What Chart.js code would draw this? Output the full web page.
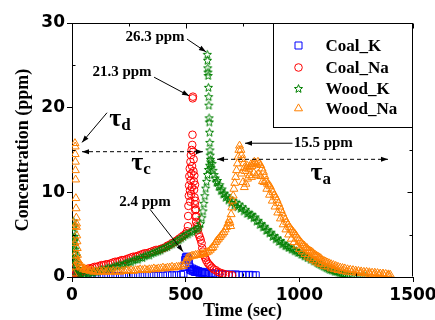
<!DOCTYPE html>
<html>
<head>
<meta charset="utf-8">
<script src="https://cdn.jsdelivr.net/npm/chart.js@4/dist/chart.umd.min.js"></script>
<style>
  html, body { margin: 0; padding: 0; background: #fff; }
  #wrap { width: 435px; height: 320px; }
</style>
</head>
<body>
<div id="wrap"><canvas id="chart" width="435" height="320"></canvas></div>
<script>
// series names and axis ticks
const seriesNames = ['Coal_K', 'Coal_Na', 'Wood_K', 'Wood_Na'];
const xTicks = [0, 500, 1000, 1500];
const yTicks = [0, 10, 20, 30];
const xMinorTicks = [250, 750, 1250];
const yMinorTicks = [5, 15, 25];

// [time (sec), concentration (ppm)]
const coalK = [[0,0.3],[4,0.6],[8,0.4],[12,0.2],[20,0.15],[30,0.1],[45,0.1],[60,0.1],[80,0.1],[100,0.1],[120,0.1],[140,0.1],[160,0.1],[180,0.1],[200,0.1],[220,0.1],[240,0.1],[260,0.1],[280,0.1],[300,0.1],[320,0.1],[340,0.15],[360,0.15],[380,0.15],[400,0.15],[420,0.2],[440,0.2],[460,0.2],[480,0.25],[490,0.4],[495,1.2],[498,2.0],[501,2.3],[504,2.4],[508,2.3],[511,2.1],[514,1.6],[517,1.2],[520,0.9],[524,0.8],[528,1.0],[532,0.7],[536,0.9],[540,0.6],[545,0.8],[550,0.6],[555,0.7],[560,0.5],[566,0.6],[572,0.5],[578,0.6],[585,0.4],[592,0.5],[600,0.35],[610,0.45],[620,0.3],[632,0.4],[645,0.3],[660,0.35],[675,0.25],[690,0.3],[705,0.25],[720,0.3],[735,0.2],[750,0.25],[765,0.2],[780,0.25],[795,0.2],[808,0.2]];

const coalNa = [[2,0.8],[4,1.3],[6,0.6],[9,1.0],[13,0.5],[18,0.4],[25,0.3],[32,0.4],[40,0.5],[48,0.7],[56,0.8],[64,0.9],[72,1.0],[80,1.0],[90,1.1],[100,1.2],[110,1.2],[120,1.3],[130,1.4],[140,1.4],[150,1.5],[160,1.5],[170,1.6],[180,1.7],[190,1.8],[200,1.8],[210,1.9],[220,2.0],[230,2.0],[240,2.1],[250,2.2],[260,2.3],[270,2.4],[280,2.4],[290,2.5],[300,2.6],[310,2.7],[320,2.8],[330,2.8],[340,2.9],[350,3.0],[360,3.1],[370,3.2],[380,3.2],[390,3.3],[400,3.4],[410,3.5],[420,3.7],[430,3.8],[440,4.0],[450,4.1],[460,4.3],[470,4.5],[480,4.7],[490,4.9],[500,5.1],[506,5.4],
  [510,6.0],[511,7.2],[512,8.4],[514,9.6],[515,10.8],[516,11.9],[518,12.8],[519,10.2],[520,8.9],[521,13.6],[522,11.4],[523,14.4],[524,9.8],[525,12.2],[526,15.0],[527,10.6],[528,13.1],[529,15.6],[530,16.8],[531,21.1],[532,21.3],[533,14.8],[534,12.5],[535,13.9],[536,11.3],[537,10.3],[538,12.0],[539,9.4],[540,8.6],[541,10.9],[542,7.9],[543,9.0],[544,7.1],[545,8.0],[546,6.5],[547,7.2],[549,6.1],[551,5.9],[554,5.6],
  [558,5.0],[562,4.7],[566,4.4],[570,4.0],[573,3.4],[576,3.0],[580,2.6],[585,2.3],[590,2.0],[596,1.7],[602,1.5],[609,1.3],[616,1.1],[624,0.9],[633,0.8],[642,0.6],[652,0.5],[664,0.4],[676,0.3],[690,0.25],[704,0.2]];

const woodK = [[1,0.6],[2,2.0],[3,3.4],[4,4.6],[5,5.9],[6,6.6],[7,5.3],[8,4.2],[9,6.1],[10,4.8],[11,3.7],[12,4.4],[13,2.8],[14,3.3],[15,2.2],[17,1.7],[19,2.5],[21,1.4],[24,1.0],[28,0.7],[33,0.5],
  [40,0.4],[50,0.3],[60,0.5],[70,0.4],[80,0.6],[90,0.5],[100,0.7],[110,0.6],[120,0.8],[130,0.9],[140,0.8],[150,1.0],[160,1.1],[170,1.0],[180,1.2],[190,1.3],[200,1.3],[210,1.5],[220,1.4],[230,1.6],[240,1.7],[250,1.8],[260,1.8],[270,2.0],[280,2.1],[290,2.1],[300,2.3],[310,2.3],[320,2.5],[330,2.6],[340,2.6],[350,2.8],[360,2.9],[370,3.0],[380,3.1],[390,3.2],[400,3.4],[410,3.5],[420,3.6],[430,3.8],[440,3.9],[450,4.1],[460,4.3],[470,4.4],[480,4.6],[490,4.8],[500,5.0],[510,5.1],[520,5.3],[530,5.4],[540,5.6],[550,5.7],[558,5.9],[565,6.3],[571,7.0],[576,7.8],[580,8.7],[584,9.6],[588,10.5],[592,11.3],[596,12.1],[600,12.7],[605,13.2],[610,13.6],
  [595,26.3],[596,25.6],[597,24.7],[598,24.2],[599,23.8],[600,22.4],[601,21.3],[602,20.3],[603,18.8],[604,18.3],[605,17.1],[606,15.9],[607,15.0],[608,14.4],[609,13.9],[611,12.9],
  [616,13.4],[620,12.6],[625,12.1],[630,11.7],[635,11.2],[640,11.4],[645,10.7],[650,10.9],[655,10.2],[660,10.4],[665,9.8],[670,9.9],[676,9.4],[682,9.6],[688,9.1],[694,9.3],[700,8.8],[707,9.0],[714,8.5],[721,8.8],[728,8.3],[735,8.6],[742,8.1],[749,8.3],[756,7.8],[763,8.0],[770,7.5],[777,7.6],[784,7.3],[791,7.4],[798,7.0],[805,7.1],[812,6.6],[819,6.7],[826,6.2],[833,6.3],[840,5.9],[847,6.0],[854,5.5],[861,5.6],[868,5.2],[875,5.3],[882,4.8],[889,4.9],[896,4.5],[903,4.6],[910,4.2],[917,4.3],[924,3.9],[931,4.0],[938,3.7],[945,3.7],[952,3.5],[959,3.5],[966,3.3],[973,3.3],[980,3.1],[987,3.1],[994,2.9],[1001,2.9],[1008,2.7],[1015,2.7],[1022,2.5],[1029,2.5],[1036,2.3],[1043,2.3],[1050,2.1],[1057,2.1],[1064,1.9],[1071,1.9],[1078,1.7],[1085,1.6],[1092,1.5],[1099,1.4],[1106,1.3],[1113,1.2],[1120,1.1],[1127,1.0],[1134,0.9],[1141,0.85],[1148,0.8],[1155,0.7],[1162,0.65],[1170,0.6],[1178,0.5],[1186,0.45],[1194,0.4],[1202,0.35],[1212,0.3],[1222,0.25],[1234,0.2],[1246,0.15],[1260,0.15],[1275,0.1],[1290,0.1]];

const woodNa = [[6,0.4],[8,1.2],[10,2.5],[11,4.0],[12,6.0],[13,15.8],[14,15.4],[14,14.5],[15,13.6],[15,12.6],[16,11.5],[17,9.3],[18,8.1],[19,7.0],[20,6.3],[20,5.9],[21,4.9],[22,4.2],[23,3.4],[24,2.6],[26,2.0],[28,1.7],
  [32,1.6],[36,1.3],[40,1.1],[45,1.2],[50,0.9],[55,1.0],[62,0.8],[70,0.9],[78,0.7],[86,0.8],[95,0.6],[104,0.7],[113,0.6],[122,0.7],[131,0.6],[140,0.7],[150,0.6],[160,0.7],[170,0.6],[180,0.7],[190,0.6],[200,0.7],[210,0.6],[220,0.7],[230,0.7],[240,0.8],[250,0.7],[260,0.8],[270,0.7],[280,0.8],[290,0.8],[300,0.9],[310,0.8],[320,0.9],[330,0.8],[340,0.9],[350,0.9],[360,1.0],[370,0.9],[380,1.0],[390,1.0],[400,1.1],[410,1.0],[420,1.1],[430,1.1],[440,1.2],[450,1.1],[460,1.2],[470,1.2],[480,1.3],[490,1.3],[498,1.5],[502,1.9],[506,2.2],
  [512,2.3],[520,2.4],[528,2.5],[536,2.5],[544,2.6],[552,2.6],[560,2.6],[568,2.7],[576,2.7],[584,2.8],[592,2.9],[600,3.0],[608,3.2],[614,3.4],[620,3.5],[626,3.8],[632,4.1],[638,4.3],[644,4.5],[650,4.7],[656,4.9],[662,5.1],[668,5.3],[674,5.6],[680,5.9],[686,6.3],[691,6.7],[695,6.4],[698,6.0],
  [700,7.4],[703,8.2],[706,9.0],[709,9.6],[712,10.4],[716,11.1],[720,11.8],[724,12.6],[728,13.4],[731,14.2],[734,15.0],[737,15.5],
  [743,15.0],[746,14.4],[750,13.9],[754,13.4],[758,12.9],[762,12.5],[767,12.9],[772,13.1],[777,12.7],[782,13.0],[787,13.3],[792,13.1],[797,13.4],[802,13.6],[807,13.5],[812,13.3],[818,13.6],[824,13.4],[830,13.2],[836,12.8],[842,12.4],[848,11.9],[854,11.4],[860,11.0],[866,10.9],[872,10.7],[878,10.3],[884,10.0],[890,9.7],[896,9.4],[902,9.1],[908,8.7],[914,8.3],[920,7.9],[926,7.5],[932,7.1],[938,6.8],[944,6.5],[950,6.2],[956,5.9],[962,5.7],[968,5.5],[974,5.3],[980,5.1],[986,4.9],[992,4.6],[998,4.4],[1004,4.2],[1010,4.0],[1016,3.8],[1022,3.7],[1028,3.5],[1034,3.4],[1040,3.2],[1046,3.1],[1052,3.0],[1058,2.9],[1064,2.7],[1070,2.6],[1076,2.5],[1082,2.4],[1088,2.3],[1094,2.2],[1100,2.0],[1108,1.9],[1116,1.8],[1124,1.7],[1132,1.6],[1140,1.5],[1150,1.4],[1160,1.3],[1170,1.2],[1180,1.1],[1190,1.05],[1200,1.0],[1212,0.9],[1224,0.85],[1236,0.8],[1248,0.75],[1260,0.7],[1272,0.65],[1284,0.6],[1296,0.6],[1308,0.55],[1320,0.5],[1332,0.5],[1344,0.45],[1356,0.4],[1368,0.4],[1380,0.35],[1392,0.3],[1400,0.25],
  [745,12.2],[752,11.2],[758,10.6],[765,11.0],[772,11.6],[780,12.0],[790,11.8],[800,12.3],[810,12.0],[820,12.2],[830,11.9],[838,11.3],
  [845,11.2],[857,10.4],[869,9.7],[881,9.0],[893,8.3],[905,7.6],[917,6.9],[929,6.2],[941,5.6],[953,5.0],[965,4.5],[977,4.1],[989,3.7],[1001,3.3],[1013,3.0],[1025,2.7],[1037,2.4],[1049,2.2],[1061,2.0],[1073,1.8],[1085,1.6],[1097,1.5],[1110,1.3],[1125,1.2],[1140,1.0],[1155,0.9],[1170,0.8],[1190,0.7],[1210,0.6],[1230,0.55],[1250,0.5],[1270,0.45],[1290,0.4],[1310,0.35],[1330,0.3],[1350,0.3],[1370,0.25],[1390,0.2]];

const serif = 'Liberation Serif, Times New Roman, serif';
const sans = 'DejaVu Sans, sans-serif';

// hollow five point star used for Wood_K
function starImage(color) {
  const c = document.createElement('canvas');
  c.width = 11; c.height = 11;
  const g = c.getContext('2d');
  g.strokeStyle = color;
  g.lineWidth = 1;
  g.beginPath();
  for (let i = 0; i < 10; i++) {
    const r = i % 2 ? 1.9 : 4.3;
    const ang = -Math.PI / 2 + i * Math.PI / 5;
    g.lineTo(5.5 + r * Math.cos(ang), 5.9 + r * Math.sin(ang));
  }
  g.closePath();
  g.stroke();
  return c;
}
const star = starImage('#008000');

const styles = [
  { color: '#0000ff', point: 'rect', radius: 5 },
  { color: '#ff0000', point: 'circle', radius: 3.8 },
  { color: '#008000', point: star, radius: 4 },
  { color: '#ff8000', point: 'triangle', radius: 4.6 }
];
const seriesData = [coalK, coalNa, woodK, woodNa];

function arrow(ctx, x1, y1, x2, y2, headStart, headEnd) {
  ctx.beginPath();
  ctx.moveTo(x1, y1);
  ctx.lineTo(x2, y2);
  ctx.stroke();
  const head = (xa, ya, xb, yb) => {
    const ang = Math.atan2(yb - ya, xb - xa);
    ctx.save();
    ctx.setLineDash([]);
    ctx.beginPath();
    ctx.moveTo(xb, yb);
    ctx.lineTo(xb - 7 * Math.cos(ang) + 2.5 * Math.sin(ang), yb - 7 * Math.sin(ang) - 2.5 * Math.cos(ang));
    ctx.lineTo(xb - 7 * Math.cos(ang) - 2.5 * Math.sin(ang), yb - 7 * Math.sin(ang) + 2.5 * Math.cos(ang));
    ctx.closePath();
    ctx.fill();
    ctx.restore();
  };
  if (headEnd) head(x1, y1, x2, y2);
  if (headStart) head(x2, y2, x1, y1);
}

function tau(ctx, x, y, sub) {
  ctx.font = 'bold 26px ' + serif;
  ctx.textAlign = 'center';
  ctx.textBaseline = 'middle';
  ctx.fillText('\u03c4', x, y);
  ctx.font = 'bold 17px ' + serif;
  ctx.textAlign = 'left';
  ctx.fillText(sub, x + 6, y + 6);
}

const extras = {
  id: 'extras',
  afterDraw(chart) {
    const { ctx, chartArea: a, scales: { x, y } } = chart;
    const X = v => x.getPixelForValue(v);
    const Y = v => y.getPixelForValue(v);
    ctx.save();
    ctx.strokeStyle = '#000';
    ctx.fillStyle = '#000';
    ctx.lineWidth = 1;

    // frame and inward ticks
    const L = Math.round(a.left) + 0.5, R = Math.round(a.right) - 0.5;
    const T = Math.round(a.top) + 0.5, B = Math.round(a.bottom) - 0.5;
    ctx.beginPath();
    ctx.moveTo(L, T); ctx.lineTo(R, T); ctx.lineTo(R, B);
    xMinorTicks.forEach(v => { const px = Math.round(X(v)) + 0.5; ctx.moveTo(px, B); ctx.lineTo(px, B - 3); });
    yMinorTicks.forEach(v => { const py = Math.round(Y(v)) + 0.5; ctx.moveTo(L, py); ctx.lineTo(L + 3, py); });
    xTicks.concat(xMinorTicks).forEach(v => { const px = Math.round(X(v)) + 0.5; ctx.moveTo(px, T); ctx.lineTo(px, T + (xTicks.includes(v) ? 5 : 3)); });
    yTicks.concat(yMinorTicks).forEach(v => { const py = Math.round(Y(v)) + 0.5; ctx.moveTo(R, py); ctx.lineTo(R - (yTicks.includes(v) ? 5 : 3), py); });
    ctx.stroke();

    // legend box
    const lx = Math.round(a.right) - 139.5, ly = T, lw = 139, lh = 104;
    ctx.fillStyle = '#fff';
    ctx.fillRect(lx, ly, lw, lh);
    ctx.strokeRect(lx, ly, lw, lh);
    const rowY = [22, 44, 65, 85];
    seriesNames.forEach((name, i) => {
      const s = styles[i];
      const mx = lx + 25, my = ly + rowY[i];
      ctx.strokeStyle = s.color;
      ctx.beginPath();
      if (s.point === 'rect') ctx.rect(mx - 3.5, my - 3.5, 7, 7);
      else if (s.point === 'circle') ctx.arc(mx, my, 3.8, 0, Math.PI * 2);
      else if (s.point === 'triangle') {
        ctx.moveTo(mx, my - 4.6);
        ctx.lineTo(mx + 4, my + 2.3);
        ctx.lineTo(mx - 4, my + 2.3);
        ctx.closePath();
      }
      ctx.stroke();
      if (typeof s.point !== 'string') ctx.drawImage(s.point, mx - 5.5, my - 5.5);
      ctx.fillStyle = '#000';
      ctx.font = 'bold 17px ' + serif;
      ctx.textAlign = 'left';
      ctx.textBaseline = 'middle';
      ctx.fillText(name, lx + 52, my + 1);
    });

    // peak labels with arrows
    ctx.strokeStyle = '#000';
    ctx.fillStyle = '#000';
    ctx.font = 'bold 15px ' + serif;
    ctx.textBaseline = 'middle';
    ctx.textAlign = 'center';
    ctx.fillText('26.3 ppm', X(365), Y(28.3));
    arrow(ctx, X(506), Y(28.1), X(589), Y(26.6), false, true);
    ctx.fillText('21.3 ppm', X(220), Y(24.2));
    arrow(ctx, X(361), Y(23.6), X(515), Y(21.4), false, true);
    ctx.fillText('2.4 ppm', X(321), Y(8.9));
    arrow(ctx, X(343), Y(8.0), X(488), Y(3.0), false, true);
    ctx.textAlign = 'left';
    ctx.fillText('15.5 ppm', X(975), Y(15.8));
    arrow(ctx, X(970), Y(15.8), X(761), Y(15.8), false, true);

    // time intervals
    arrow(ctx, X(154), Y(19.4), X(44), Y(15.9), false, true);
    ctx.setLineDash([4, 3]);
    arrow(ctx, X(44), Y(14.8), X(576), Y(14.8), true, true);
    arrow(ctx, X(638), Y(13.9), X(1390), Y(13.9), true, true);
    ctx.setLineDash([]);
    tau(ctx, X(190), Y(18.6), 'd');
    tau(ctx, X(287), Y(13.4), 'c');
    tau(ctx, X(1075), Y(12.2), 'a');
    ctx.restore();
  }
};

const datasets = seriesNames.map((name, i) => ({
  label: name,
  data: seriesData[i],
  pointStyle: styles[i].point,
  pointRadius: styles[i].radius,
  pointBorderColor: styles[i].color,
  pointBackgroundColor: 'rgba(0,0,0,0)',
  pointBorderWidth: 1,
  showLine: false,
  order: 4 - i
}));

new Chart(document.getElementById('chart'), {
  type: 'scatter',
  data: { datasets: datasets },
  options: {
    responsive: false,
    animation: false,
    events: [],
    layout: { padding: { top: 23, right: 22, left: 0, bottom: 0 } },
    plugins: { legend: { display: false }, tooltip: { enabled: false } },
    scales: {
      x: {
        type: 'linear', min: 0, max: 1500,
        afterBuildTicks: s => { s.ticks = xTicks.map(v => ({ value: v })); },
        afterFit: s => { s.height = 43; s.paddingLeft = 0; s.paddingRight = 0; },
        ticks: { color: '#000', padding: 3, maxRotation: 0, callback: v => String(v), font: { family: sans, weight: 'bold', size: 17 } },
        grid: { drawOnChartArea: false, tickLength: 5, color: '#000' },
        border: { color: '#000' },
        title: { display: true, text: 'Time (sec)', color: '#000', padding: 0, font: { family: serif, weight: 'bold', size: 18, lineHeight: 1 } }
      },
      y: {
        type: 'linear', min: 0, max: 30,
        afterBuildTicks: s => { s.ticks = yTicks.map(v => ({ value: v })); },
        afterFit: s => { s.width = 72; s.paddingTop = 0; s.paddingBottom = 0; },
        ticks: { color: '#000', padding: 2, callback: v => String(v), font: { family: sans, weight: 'bold', size: 17 } },
        grid: { drawOnChartArea: false, tickLength: 5, color: '#000' },
        border: { color: '#000' },
        title: { display: true, text: 'Concentration (ppm)', color: '#000', padding: { top: 13, bottom: 0 }, font: { family: serif, weight: 'bold', size: 18 } }
      }
    }
  },
  plugins: [extras]
});
</script>
</body>
</html>
